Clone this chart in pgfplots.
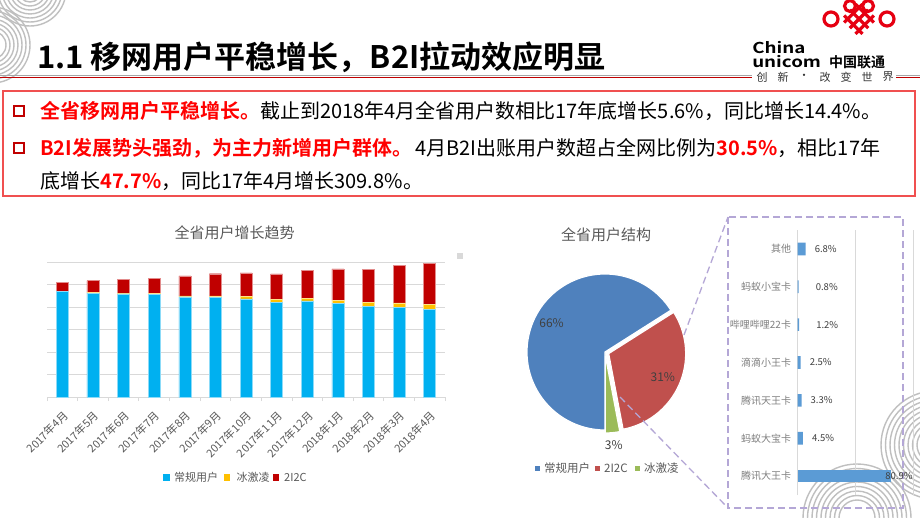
\documentclass[border=0pt]{standalone}
\usepackage{fontspec}
\setmainfont{Noto Sans CJK SC}[BoldFont={Noto Sans CJK SC Bold}]
\usepackage{pgfplots}
\pgfplotsset{compat=1.18}

\definecolor{cblue}{HTML}{00B0F0}
\definecolor{cyellow}{HTML}{FFC000}
\definecolor{cred}{HTML}{C00000}
\definecolor{pblue}{HTML}{4F81BD}
\definecolor{pred}{HTML}{C0504D}
\definecolor{pgreen}{HTML}{9BBB59}
\definecolor{hblue}{HTML}{5B9BD5}
\definecolor{gridgray}{HTML}{D9D9D9}
\definecolor{labgray}{HTML}{595959}
\definecolor{lightlab}{HTML}{7F7F7F}
\definecolor{darklab}{HTML}{404040}
\definecolor{hlred}{HTML}{FF0000}
\definecolor{boxred}{HTML}{F05050}
\definecolor{dashpurple}{HTML}{B4A7D6}
\definecolor{decogray}{HTML}{BFBFBF}
\definecolor{unired}{HTML}{E60012}

% pie shares (%)
\def\pa{66}\def\pb{31}\def\pc{3}
\pgfmathsetmacro\aA{270-3.6*\pa}
\pgfmathsetmacro\aB{\aA-3.6*\pb}
\pgfmathsetmacro\aC{\aB-3.6*\pc}
\pgfmathsetmacro\mA{(\aA+270)/2}
\pgfmathsetmacro\mB{(\aA+\aB)/2}
\pgfmathsetmacro\mC{(\aB+\aC)/2}

\begin{document}
\begin{tikzpicture}[x=1pt,y=-1pt]
\path[use as bounding box, fill=white] (0,0) rectangle (920,518);

% decorative stripes
\begin{scope}[decogray, line width=1.4pt]
  \foreach \r in {12,16,...,36} \draw (30,-10) ++(0:\r) arc[start angle=0,end angle=180,radius=\r];
  \foreach \r in {14,18,...,38} \draw (-8,45) ++(-90:\r) arc[start angle=-90,end angle=90,radius=\r];
  \foreach \r in {18,22.5,...,54} \draw (857,518) ++(180:\r) arc[start angle=180,end angle=360,radius=\r];
  \foreach \r in {18,22.5,...,54} \draw (935,445) ++(90:\r) arc[start angle=90,end angle=270,radius=\r];
\end{scope}

% header
\node[anchor=west, inner sep=0] at (37,57) {\fontsize{31}{36}\selectfont\bfseries 1.1 移网用户平稳增长，B2I拉动效应明显};
\draw[color=gray!70, line width=1.4pt] (0,75.3) -- (752,75.3) (896,75.3) -- (920,75.3);
\draw[color=cred, line width=1.1pt] (0,77.6) -- (752,77.6) (896,77.6) -- (920,77.6);

% logo
\begin{scope}[shift={(859,19)}, rotate=45, unired, line width=3.2pt]
  \foreach \u in {-8,0,8} {
    \draw (\u,-13) -- (\u,13);
    \draw (-13,\u) -- (13,\u);
  }
\end{scope}
\begin{scope}[unired, line width=3.2pt]
  \draw (831,19) circle (7);
  \draw (887,19) circle (7);
  \draw (850,6) circle (5.5);
  \draw (868,6) circle (5.5);
\end{scope}
\node[anchor=west, inner sep=0, xscale=1.25] at (752,48) {\fontsize{15}{15}\selectfont\bfseries China};
\node[anchor=west, inner sep=0, xscale=1.25] at (752,62) {\fontsize{15}{15}\selectfont\bfseries unicom};
\node[anchor=west, inner sep=0] at (829,62) {\fontsize{14}{14}\selectfont\bfseries 中国联通};
\foreach \c [count=\i from 0] in {创,新,·,改,变,世,界}
  \node[inner sep=0, text=black!80] at (762+\i*21,77) {\fontsize{11}{11}\selectfont \c};

% text box
\draw[boxred, line width=1.3pt] (3,91) rectangle (915,196);
\draw[cred, line width=2.2pt] (14,106) rectangle (24,116);
\draw[cred, line width=2.2pt] (14,143) rectangle (24,153);
\begin{scope}[every node/.style={anchor=west, inner sep=0, font=\fontsize{20}{24}\selectfont}]
\node at (40,111) {{\bfseries\color{hlred}全省移网用户平稳增长。}截止到2018年4月全省用户数相比17年底增长5.6\%，同比增长14.4\%。};
\node at (40,148) {{\bfseries\color{hlred}B2I发展势头强劲，为主力新增用户群体。}\,4月B2I出账用户数超占全网比例为{\bfseries\color{hlred}30.5\%}，相比17年};
\node at (40,181) {底增长{\bfseries\color{hlred}47.7\%}，同比17年4月增长309.8\%。};
\end{scope}

% stacked bar chart
\node[text=labgray] at (234.5,233) {\fontsize{15}{18}\selectfont 全省用户增长趋势};
\fill[gridgray] (456.5,252.7) rectangle (462.5,258.7);
\begin{axis}[
  at={(47pt,-397pt)}, anchor=south west,
  scale only axis, width=398pt, height=135pt,
  ybar stacked, bar width=12pt,
  xmin=-0.5, xmax=12.5, ymin=0, ymax=600,
  axis x line*=bottom, axis y line*=left,
  x axis line style={draw=gridgray, line width=0.8pt, -},
  y axis line style={draw=none},
  ytick={0,100,...,600}, yticklabels={},
  ymajorgrids, grid style={draw=gridgray, line width=0.8pt},
  major tick length=0pt,
  xtick={0,...,12},
  xticklabels={2017年4月,2017年5月,2017年6月,2017年7月,2017年8月,2017年9月,2017年10月,2017年11月,2017年12月,2018年1月,2018年2月,2018年3月,2018年4月},
  xticklabel style={rotate=45, anchor=north east, font=\fontsize{11}{13}\selectfont, text=labgray, inner sep=0pt},
  xticklabel shift=13pt,
  extra x ticks={-0.5,0.5,...,12.5},
  extra x tick labels={},
  extra x tick style={major tick length=4pt, tick align=outside, xtick style={draw=gridgray, line width=0.8pt}},
]
\addplot[fill=cblue, draw=cblue!45!white, line width=0.4pt] coordinates {(0,470) (1,462) (2,458) (3,455) (4,445) (5,443) (6,436) (7,422) (8,427) (9,417) (10,403) (11,399) (12,390)};
\addplot[fill=cyellow, draw=cyellow!45!white, line width=0.4pt] coordinates {(0,1) (1,2) (2,2) (3,6) (4,5) (5,7) (6,10) (7,12) (8,12) (9,14) (10,17) (11,19) (12,21)};
\addplot[fill=cred, draw=cred!45!white, line width=0.4pt] coordinates {(0,40) (1,53) (2,63) (3,66) (4,88) (5,98) (6,106) (7,113) (8,124) (9,139) (10,146) (11,168) (12,184)};
\end{axis}
\begin{scope}[every node/.style={anchor=west, inner sep=0, text=labgray, font=\fontsize{11}{13}\selectfont}]
  \fill[cblue] (163,474) rectangle (169.5,480.5);   \node at (174,477.5) {常规用户};
  \fill[cyellow] (223.5,474) rectangle (230,480.5); \node at (236.5,477.5) {冰激凌};
  \fill[cred] (272.7,474) rectangle (279.2,480.5);  \node at (284,477.5) {2I2C};
\end{scope}

% pie chart
\node[text=labgray] at (606,235) {\fontsize{15}{18}\selectfont 全省用户结构};
\begin{axis}[
  at={(605pt,-352pt)}, anchor=center,
  scale only axis, width=156pt, height=156pt,
  xmin=-1, xmax=1, ymin=-1, ymax=1,
  hide axis, clip=false,
]
\fill[pblue, draw=white, line width=1.2pt] (0,0) -- ++(\aA:78pt) arc[start angle=\aA, end angle=270, radius=78pt] -- cycle;
\begin{scope}[shift={(\mB:4pt)}]
\fill[pred, draw=white, line width=1.2pt] (0,0) -- ++(\aB:77pt) arc[start angle=\aB, end angle=\aA, radius=77pt] -- cycle;
\end{scope}
\begin{scope}[shift={(\mC:4pt)}]
\fill[pgreen, draw=white, line width=1.2pt] (0,0) -- ++(\aC:77pt) arc[start angle=\aC, end angle=\aB, radius=77pt] -- cycle;
\end{scope}
\node[shift={(\mA:61pt)}, text=darklab, font=\fontsize{12}{14}\selectfont] at (0,0) {\pa\%};
\node[shift={(\mB:63pt)}, text=darklab, font=\fontsize{12}{14}\selectfont] at (0,0) {\pb\%};
\node[shift={(\mC:94pt)}, text=darklab, font=\fontsize{12}{14}\selectfont] at (0,0) {\pc\%};
\end{axis}
\begin{scope}[every node/.style={anchor=west, inner sep=0, text=labgray, font=\fontsize{11.5}{13}\selectfont}]
  \fill[pblue] (535,466) rectangle (539.5,470.5);  \node at (544,468) {常规用户};
  \fill[pred] (595,466) rectangle (599.5,470.5);   \node at (604,468) {2I2C};
  \fill[pgreen] (635,466) rectangle (639.5,470.5); \node at (644,468) {冰激凌};
\end{scope}

% connector and dashed box
\begin{scope}[dashpurple, line width=1.3pt, dash pattern=on 7pt off 4pt]
  \draw (728,217) rectangle (903,508);
  \draw (684,335) -- (728,217);
  \draw (620,397) -- (728,508);
\end{scope}

% horizontal bar chart
\begin{axis}[
  at={(797.7pt,-495pt)}, anchor=south west,
  scale only axis, width=115.3pt, height=265pt,
  xbar, bar width=12.7pt, bar shift=0pt,
  xmin=0, xmax=100, ymin=-0.5, ymax=6.5,
  axis line style={draw=none},
  xtick={0,50,100}, xticklabels={}, xmajorgrids,
  grid style={draw=gridgray, line width=0.8pt},
  major tick length=0pt,
  ytick={0,...,6},
  yticklabels={腾讯大王卡,蚂蚁大宝卡,腾讯天王卡,滴滴小王卡,哔哩哔哩22卡,蚂蚁小宝卡,其他},
  yticklabel style={font=\fontsize{10}{12}\selectfont, text=lightlab, inner sep=0pt, xshift=-6.5pt},
  clip=false,
  point meta=x,
  /pgf/number format/assume math mode=true,
  nodes near coords={\pgfmathprintnumber[fixed,fixed zerofill,precision=1,assume math mode=true]{\pgfplotspointmeta}\%},
  nodes near coords style={font=\fontsize{9.5}{11}\selectfont, text=darklab, inner sep=0pt},
]
\addplot[fill=hblue, draw=none, every node near coord/.append style={anchor=center, xshift=8pt}] coordinates {(80.9,0)};
\addplot[fill=hblue, draw=none, every node near coord/.append style={anchor=west, xshift=9pt}] coordinates {(4.5,1) (3.3,2) (2.5,3) (6.8,6)};
\addplot[fill=hblue, draw=none, every node near coord/.append style={anchor=west, xshift=17pt}] coordinates {(1.2,4) (0.8,5)};
\end{axis}
\end{tikzpicture}
\end{document}
